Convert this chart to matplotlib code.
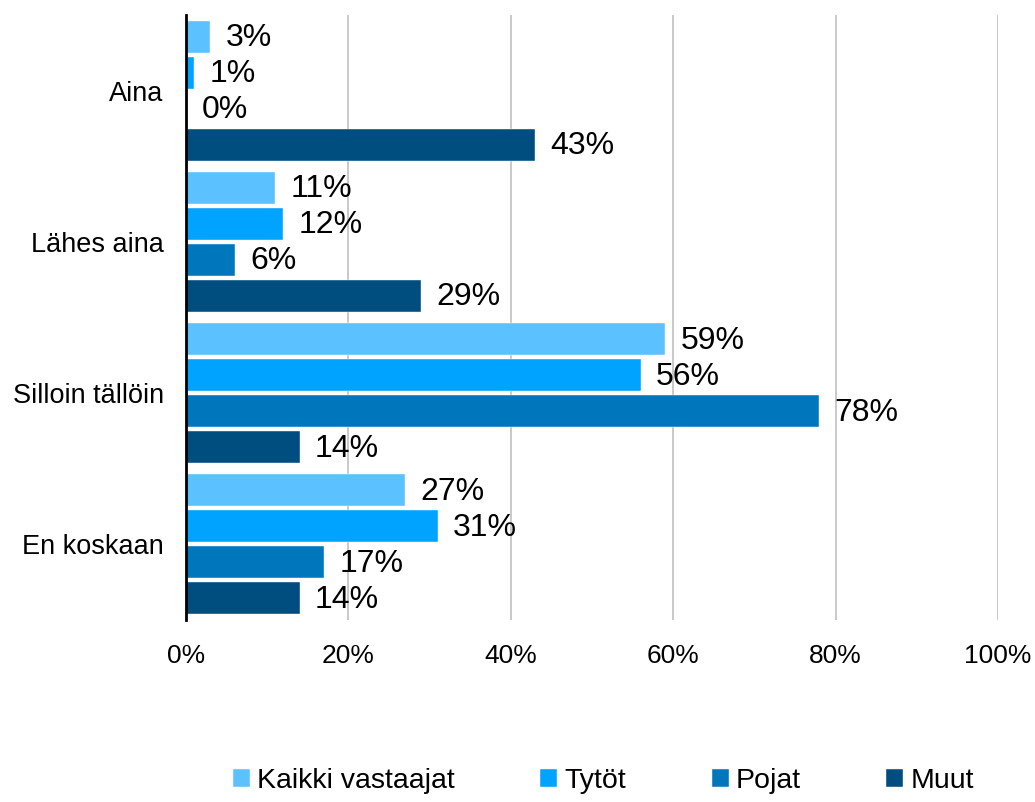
import numpy as np
import matplotlib.pyplot as plt

plt.rcParams['font.family'] = ['Liberation Sans', 'DejaVu Sans']

# data
categories = ["Aina", "Lähes aina", "Silloin tällöin", "En koskaan"]
series_names = ["Kaikki vastaajat", "Tytöt", "Pojat", "Muut"]
kaikki = [3, 11, 59, 27]
tytot = [1, 12, 56, 31]
pojat = [0, 6, 78, 17]
muut = [43, 29, 14, 14]
colors = ["#5BC2FF", "#00A3FF", "#0077BC", "#004E7F"]
x_ticks = [0, 20, 40, 60, 80, 100]


def main():
    fig = plt.figure(figsize=(10.35, 8.02), dpi=100)
    ax = fig.add_axes([0.1797, 0.227, 0.7846, 0.754])

    values = [kaikki, tytot, pojat, muut]
    group_pos = np.arange(len(categories))
    pitch = 0.238
    height = 0.212

    for i, (name, vals) in enumerate(zip(series_names, values)):
        y = group_pos + (i - 1.5) * pitch
        bars = ax.barh(y, vals, height=height, color=colors[i], label=name,
                       edgecolor="white", linewidth=0.3)
        for b, v in zip(bars, vals):
            ax.annotate("%d%%" % v, xy=(v, b.get_y() + b.get_height() / 2),
                        xytext=(11, -1), textcoords="offset points",
                        ha="left", va="center", fontsize=23)

    ax.set_ylim(len(categories) - 0.5, -0.5)
    ax.set_xlim(0, 100)
    ax.set_xticks(x_ticks)
    ax.set_xticklabels(["%d%%" % t for t in x_ticks], fontsize=19)
    ax.set_yticks(group_pos)
    ax.set_yticklabels(categories, fontsize=19.5)
    ax.tick_params(axis="both", length=0)
    ax.tick_params(axis="y", pad=16)
    ax.tick_params(axis="x", pad=17)

    ax.grid(axis="x", color="#C0C0C0", linewidth=1.2)
    ax.set_axisbelow(True)
    for s in ["top", "right", "bottom"]:
        ax.spines[s].set_visible(False)
    ax.spines["left"].set_linewidth(2)
    ax.spines["left"].set_color("black")
    ax.spines["left"].set_zorder(5)

    fig.legend(loc="lower center", bbox_to_anchor=(0.583, -0.022), ncol=4,
               frameon=False, fontsize=20.5, handlelength=0.6,
               handleheight=0.6, handletextpad=0.25, columnspacing=3.0)

    fig.savefig("out.png", dpi=100)


if __name__ == "__main__":
    main()
